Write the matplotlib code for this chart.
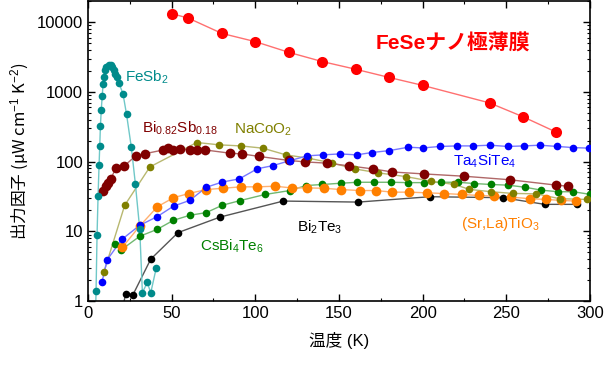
import numpy as np
import matplotlib
matplotlib.use('Agg')
from matplotlib import pyplot as plt
from matplotlib.ticker import FixedLocator, LogLocator, NullFormatter, MultipleLocator

plt.rcParams['font.family'] = ['Liberation Sans', 'Noto Sans CJK JP', 'DejaVu Sans']
plt.rcParams['mathtext.fontset'] = 'custom'
plt.rcParams['mathtext.rm'] = 'Liberation Sans'
plt.rcParams['mathtext.it'] = 'Liberation Sans'
plt.rcParams['mathtext.bf'] = 'Liberation Sans:bold'

# FeSe ultrathin film
fese_t = [50, 60, 80, 100, 120, 140, 160, 180, 200, 240, 260, 280]
fese_s = [13250, 11400, 6890, 5250, 3690, 2720, 2110, 1610, 1240, 695, 440, 264]

# FeSb2
fesb2_t = [4.3, 4.8, 5.4, 6.0, 6.6, 7.0, 7.4, 7.9, 8.5, 9.0, 9.6, 10.0, 11.0, 12.4, 13.6,
           14.5, 15.5, 16.3, 17.5, 18.5, 20.9, 23.0, 25.9, 28.3, 30.9, 32.5, 35.4, 37.5, 40.8]
fesb2_s = [0.4, 1.4, 9.0, 32, 90, 165, 320, 550, 880, 1310, 1630, 2030, 2260, 2460, 2460,
           2300, 2075, 1820, 1630, 1330, 940, 480, 160, 48, 10.8, 1.32, 1.85, 1.32, 3.0]

# Bi0.82Sb0.18
bisb_t = [9.0, 10.5, 12.0, 13.5, 16.7, 21.5, 28.5, 34.1, 45, 48, 51, 55, 61, 65, 70,
          85, 92, 102, 120, 130, 143, 156, 170.5, 182, 201, 225, 252, 280, 287]
bisb_s = [37.7, 45, 50, 56, 81, 86, 121, 130, 147, 156, 148, 150, 148, 148, 147,
          132, 129, 119, 104, 99, 95, 87, 78.5, 71, 66.6, 61.7, 55, 46, 44.4]

# NaCoO2
naco_t = [9.6, 21.9, 37, 65, 78.5, 91.3, 104.4, 118.3, 131.7, 145.6, 159.6, 173.5,
          190, 205, 219, 228, 241, 254, 268, 282, 298]
naco_s = [2.65, 23.6, 84, 188, 174, 168, 156, 125, 112, 96, 78.5, 69,
          61, 52.4, 47, 40, 37, 35, 34.5, 29.4, 28.7]

# Ta4SiTe4
tast_t = [8.4, 11.4, 20.3, 30.9, 41.4, 51.1, 60.8, 70.8, 80.3, 90.4, 101.2, 110.4, 120.5,
          131, 140.3, 150.6, 160.6, 169.6, 180.2, 191.5, 200, 210.4, 220.4, 230, 240.3,
          250.8, 260.6, 270.2, 280.5, 290, 299.6]
tast_s = [1.9, 3.9, 7.7, 12.2, 16.3, 23, 27.8, 43, 51, 56.5, 79, 87.5, 103,
          121, 125, 129, 125, 135, 144, 161, 157, 165, 168, 168, 172,
          165, 168, 172, 165, 159, 156]

# (Sr,La)TiO3
slto_t = [20.5, 31, 41.5, 51, 60.2, 70.7, 80.6, 91.3, 101.2, 111.8, 121.7, 131, 141,
          151, 162.6, 172.1, 182, 192, 202.4, 212.8, 223.4, 234, 242.7, 253, 264, 274,
          282.5, 292]
slto_s = [5.9, 12, 22.6, 30.3, 34.9, 39.8, 41.5, 43.5, 43.5, 44.4, 42, 42, 41.5,
          39.8, 38.5, 38.5, 36.5, 36.5, 35.7, 34.9, 33.8, 32.7, 32, 31, 29.4, 28.7,
          27.8, 27.2]

# CsBi4Te6
cbt_t = [16, 19.9, 30.9, 41.4, 51, 60.8, 70.7, 80.3, 90.6, 105.8, 120.7, 130.3, 140,
         151, 161, 171, 181, 191, 201, 211, 221, 231, 241, 251, 261, 271, 281, 290, 300]
cbt_s = [6.7, 5.45, 8.5, 10.7, 14.4, 17, 18.6, 23.7, 27.5, 33.8, 38.5, 45.4, 47,
         49, 50.6, 50.6, 50.6, 50, 50, 50.6, 50.6, 48.5, 47, 46, 43, 39, 37, 37, 34]

# Bi2Te3
bt_t = [19, 22.5, 26.9, 37.5, 53.8, 78.8, 116.7, 161.6, 204.4, 248, 273, 292.5]
bt_s = [0.5, 1.28, 1.24, 4.0, 9.6, 16, 27.2, 26.3, 31.4, 30.4, 24.4, 24.4]

fig = plt.figure(figsize=(6.05, 3.75), dpi=100)
ax = fig.add_axes([0.1455, 0.197, 0.8295, 0.8])

def draw(t, s, mc, lc, ms):
    ax.plot(t, s, '-', color=lc, lw=1.0, zorder=2)
    ax.plot(t, s, 'o', color=mc, ms=ms, mec='none', zorder=3)

draw(bt_t, bt_s, 'black', '#555555', 5.5)
draw(cbt_t, cbt_s, '#008000', '#70b870', 5.5)
draw(slto_t, slto_s, '#ff8000', '#ffb070', 7)
draw(naco_t, naco_s, '#808000', '#b8b870', 5.5)
draw(bisb_t, bisb_s, '#800000', '#b06868', 7)
draw(tast_t, tast_s, '#0000ff', '#7878ff', 5.5)
draw(fesb2_t, fesb2_s, '#008b8b', '#70c8c8', 5.5)
draw(fese_t, fese_s, '#ff0000', '#ff7070', 8)

ax.set_yscale('log')
ax.set_xlim(0, 300)
ax.set_ylim(1, 20000)
ax.xaxis.set_major_locator(MultipleLocator(50))
ax.xaxis.set_minor_locator(MultipleLocator(25))
ax.yaxis.set_major_locator(FixedLocator([1, 10, 100, 1000, 10000]))
ax.set_yticklabels(['1', '10', '100', '1000', '10000'])
ax.yaxis.set_minor_locator(LogLocator(base=10, subs=np.arange(2, 10)))
ax.yaxis.set_minor_formatter(NullFormatter())
ax.tick_params(which='both', direction='in', top=True, right=True, labelsize=12)
ax.tick_params(which='major', length=5, width=1)
ax.tick_params(which='minor', length=2.5, width=0.8)
for sp in ax.spines.values():
    sp.set_linewidth(1.2)

ax.set_xlabel('温度 (K)', fontsize=12, labelpad=8)
# mathtext renders the plain part with one font only, so use the CJK family here
ax.set_ylabel('出力因子 (µW cm$^{-1}$ K$^{-2}$)', fontsize=12, labelpad=4,
              family='Noto Sans CJK JP')

def label(x, y, text, color, size=11, weight='normal'):
    ax.text(x, y, text, color=color, fontsize=size, fontweight=weight,
            ha='left', va='center', transform=ax.transData)

label(172, 4900, 'FeSeナノ極薄膜', '#ff0000', 15, 'bold')
label(22, 1600, 'FeSb$_2$', '#008b8b')
label(32, 300, 'Bi$_{0.82}$Sb$_{0.18}$', '#800000')
label(87, 285, 'NaCoO$_2$', '#808000')
label(218, 100, 'Ta$_4$SiTe$_4$', '#0000ff')
label(223, 12.6, '(Sr,La)TiO$_3$', '#ff8000')
label(125, 11.4, 'Bi$_2$Te$_3$', 'black')
label(67, 6.2, 'CsBi$_4$Te$_6$', '#008000')

fig.savefig('out.png', dpi=100)
